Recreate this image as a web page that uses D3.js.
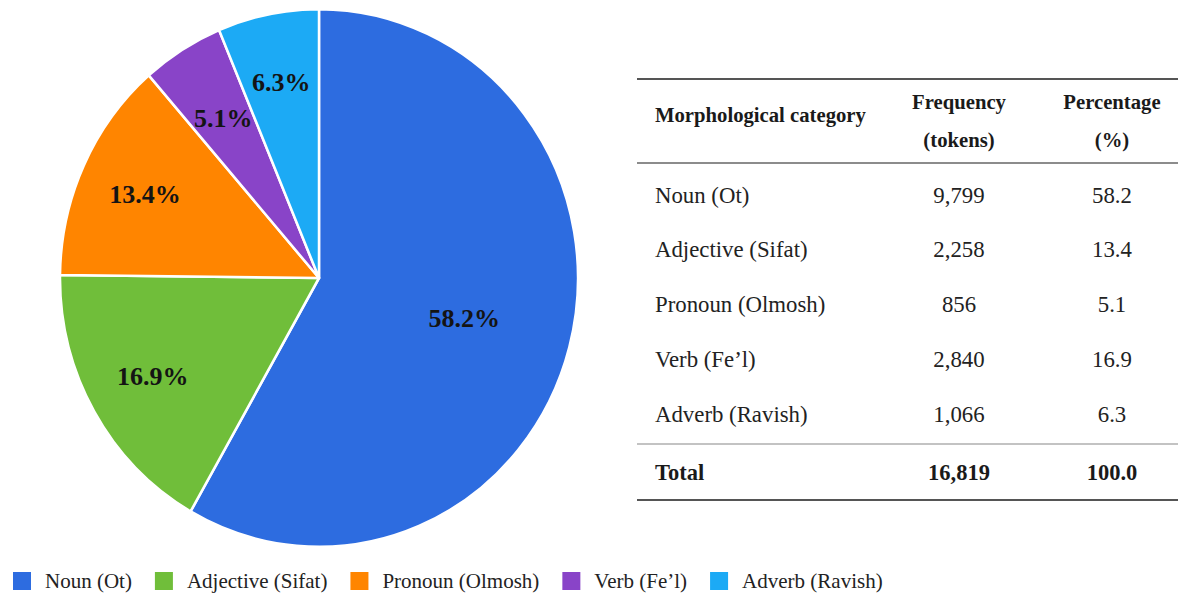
<!DOCTYPE html>
<html>
<head>
<meta charset="utf-8">
<script src="https://cdn.jsdelivr.net/npm/d3@7"></script>
<style>
  body { margin: 0; background: #fff; }
  svg { display: block; }
</style>
</head>
<body>
<div id="chart"></div>
<script>
// pie slices, in drawing order (clockwise from 12 o'clock)
const sliceValues = [58.2, 16.9, 13.4, 5.1, 6.3]
const sliceColors = ['#2d6ce0', '#70be3a', '#ff8500', '#8944c8', '#1caaf5']

// legend
const legendLabels = ['Noun (Ot)', 'Adjective (Sifat)', 'Pronoun (Olmosh)', 'Verb (Fe\u2019l)', 'Adverb (Ravish)']

// table
const tableHeader = [['Morphological category'], ['Frequency', '(tokens)'], ['Percentage', '(%)']]
const tableCategories = ['Noun (Ot)', 'Adjective (Sifat)', 'Pronoun (Olmosh)', 'Verb (Fe\u2019l)', 'Adverb (Ravish)']
const tableFrequency = ['9,799', '2,258', '856', '2,840', '1,066']
const tablePercent = ['58.2', '13.4', '5.1', '16.9', '6.3']
const tableTotal = ['Total', '16,819', '100.0']

const width = 1178, height = 594
const serif = '"Liberation Serif", "Times New Roman", serif'

const svg = d3.select('#chart')
  .append('svg')
  .attr('width', width)
  .attr('height', height)

// ---- pie
const cx = 319, cy = 278, r = 259, yStretch = 1.038

const pie = d3.pie().sort(null).value(d => d)
const arcs = pie(sliceValues)
const arc = d3.arc().innerRadius(0).outerRadius(r)

const pieG = svg.append('g')
  .attr('transform', `translate(${cx},${cy}) scale(1,${yStretch})`)

pieG.selectAll('path')
  .data(arcs)
  .join('path')
  .attr('d', arc)
  .attr('fill', (d, i) => sliceColors[i])
  .attr('stroke', '#fff')
  .attr('stroke-width', 2.5)
  .attr('stroke-linejoin', 'round')

// labels sit on a ring inside the slice, big slice a bit closer in
const labelPos = d => {
  const share = (d.endAngle - d.startAngle) / (2 * Math.PI)
  const lr = share > 0.5 ? r * 0.58 : share < 0.06 ? r * 0.7 : r * 0.74
  const c = d3.arc().innerRadius(lr).outerRadius(lr).centroid(d)
  return [cx + c[0], cy + c[1] * yStretch]
}

svg.append('g')
  .selectAll('text')
  .data(arcs)
  .join('text')
  .attr('x', d => labelPos(d)[0])
  .attr('y', d => labelPos(d)[1])
  .attr('text-anchor', 'middle')
  .attr('dominant-baseline', 'central')
  .attr('font-family', serif)
  .attr('font-weight', 'bold')
  .attr('font-size', 26)
  .attr('fill', '#141414')
  .text(d => d.data.toFixed(1) + '%')

// ---- table
const tbl = svg.append('g')
const tx0 = 637, tx1 = 1178
const colX = [655, 959, 1112]
const rowY = d3.scalePoint()
  .domain(tableCategories)
  .range([195, 414])

const rule = (y, w, c) => tbl.append('line')
  .attr('x1', tx0).attr('x2', tx1)
  .attr('y1', y).attr('y2', y)
  .attr('stroke', c).attr('stroke-width', w)

rule(79, 2.2, '#555')
rule(163, 1.6, '#666')
rule(444, 1.2, '#888')
rule(500, 2.2, '#555')

// header
tbl.append('text')
  .attr('x', colX[0]).attr('y', 115)
  .attr('dominant-baseline', 'central')
  .attr('font-family', serif).attr('font-weight', 'bold')
  .attr('font-size', 20.7).attr('fill', '#1a1a1a')
  .text(tableHeader[0][0])

tableHeader.slice(1).forEach((lines, k) => {
  lines.forEach((s, j) => {
    tbl.append('text')
      .attr('x', colX[k + 1]).attr('y', 102 + j * 38)
      .attr('text-anchor', 'middle')
      .attr('dominant-baseline', 'central')
      .attr('font-family', serif).attr('font-weight', 'bold')
      .attr('font-size', 20.7).attr('fill', '#1a1a1a')
      .text(s)
  })
})

// body rows
const rows = tbl.selectAll('g.row')
  .data(tableCategories)
  .join('g')
  .attr('class', 'row')
  .attr('transform', d => `translate(0,${rowY(d)})`)
  .attr('font-family', serif)
  .attr('font-size', 22.8)
  .attr('fill', '#222')

rows.append('text')
  .attr('x', colX[0])
  .attr('dominant-baseline', 'central')
  .text(d => d)

rows.append('text')
  .attr('x', colX[1])
  .attr('text-anchor', 'middle')
  .attr('dominant-baseline', 'central')
  .text((d, i) => tableFrequency[i])

rows.append('text')
  .attr('x', colX[2])
  .attr('text-anchor', 'middle')
  .attr('dominant-baseline', 'central')
  .text((d, i) => tablePercent[i])

// total row
tableTotal.forEach((s, k) => {
  tbl.append('text')
    .attr('x', colX[k]).attr('y', 472)
    .attr('text-anchor', k === 0 ? 'start' : 'middle')
    .attr('dominant-baseline', 'central')
    .attr('font-family', serif).attr('font-weight', 'bold')
    .attr('font-size', 22.5).attr('fill', '#1a1a1a')
    .text(s)
})

// ---- legend
const legend = svg.append('g').attr('transform', 'translate(13,581)')
let lx = 0
legendLabels.forEach((lab, i) => {
  const item = legend.append('g').attr('transform', `translate(${lx},0)`)
  item.append('rect')
    .attr('x', 0).attr('y', -9)
    .attr('width', 18).attr('height', 18)
    .attr('fill', sliceColors[i])
  const t = item.append('text')
    .attr('x', 32).attr('y', 0)
    .attr('dominant-baseline', 'central')
    .attr('font-family', serif)
    .attr('font-size', 21)
    .attr('fill', '#222')
    .text(lab)
  lx += 32 + t.node().getComputedTextLength() + 23
})
</script>
</body>
</html>
